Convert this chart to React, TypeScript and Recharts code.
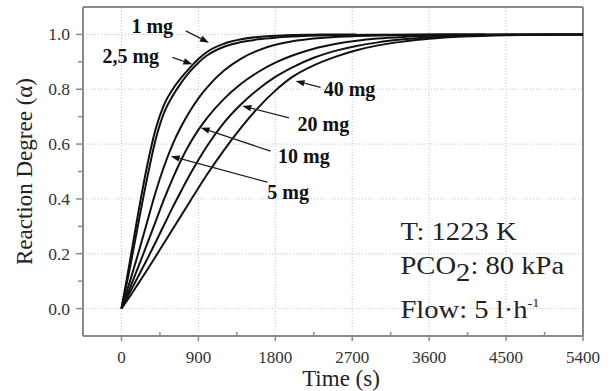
import React from 'react';
import { LineChart, Line, XAxis, YAxis, ReferenceLine, ReferenceDot, Label } from 'recharts';

const FONT = "'Liberation Serif', 'Times New Roman', Times, serif";

// ---- data (time in s, reaction degree alpha) ----
const time1mg = [0, 100, 200, 300, 400, 500, 600, 700, 800, 900, 1000, 1200, 1400, 1600, 1800, 2000, 2250, 2500, 2750];
const alpha1mg = [0, 0.175, 0.355, 0.52, 0.655, 0.745, 0.8, 0.842, 0.878, 0.91, 0.936, 0.966, 0.982, 0.991, 0.995, 0.998, 0.999, 1.0, 1.0];

const time25mg = [0, 100, 200, 300, 400, 500, 600, 700, 800, 900, 1000, 1200, 1400, 1600, 1800, 2000, 2500, 3000, 3600, 4250];
const alpha25mg = [0, 0.15, 0.315, 0.475, 0.617, 0.716, 0.776, 0.824, 0.864, 0.897, 0.923, 0.955, 0.972, 0.982, 0.988, 0.992, 0.997, 0.999, 1.0, 1.0];

const timeLong = [0, 100, 200, 300, 400, 500, 600, 700, 800, 900, 1000, 1200, 1400, 1600, 1800, 2000, 2250, 2500, 2750, 3000, 3300, 3600, 4000, 4500, 5000, 5400];
const alpha5mg = [0, 0.1, 0.205, 0.315, 0.425, 0.52, 0.6, 0.665, 0.72, 0.767, 0.806, 0.868, 0.912, 0.942, 0.962, 0.975, 0.985, 0.991, 0.994, 0.996, 0.998, 0.999, 1.0, 1.0, 1.0, 1.0];
const alpha10mg = [0, 0.075, 0.155, 0.235, 0.318, 0.4, 0.475, 0.543, 0.602, 0.652, 0.695, 0.765, 0.82, 0.863, 0.897, 0.923, 0.948, 0.965, 0.977, 0.985, 0.991, 0.995, 0.998, 1.0, 1.0, 1.0];
const alpha20mg = [0, 0.06, 0.12, 0.18, 0.242, 0.306, 0.37, 0.43, 0.488, 0.542, 0.592, 0.678, 0.745, 0.8, 0.845, 0.88, 0.915, 0.94, 0.958, 0.971, 0.982, 0.99, 0.995, 0.998, 1.0, 1.0];
const alpha40mg = [0, 0.045, 0.093, 0.141, 0.19, 0.24, 0.29, 0.34, 0.39, 0.44, 0.488, 0.578, 0.66, 0.733, 0.795, 0.845, 0.887, 0.918, 0.942, 0.96, 0.974, 0.984, 0.992, 0.997, 0.999, 1.0];

const massLabels = ['1 mg', '2,5 mg', '5 mg', '10 mg', '20 mg', '40 mg'];

const xMajorTicks = [0, 900, 1800, 2700, 3600, 4500, 5400];
const xMinorTicks = [-450, 450, 1350, 2250, 3150, 4050, 4950];
const yMajorTicks = [0, 0.2, 0.4, 0.6, 0.8, 1.0];
const yMinorTicks = [0.1, 0.3, 0.5, 0.7, 0.9];

const xGrid = [0, 900, 1800, 2700, 3600, 4500];
const yGrid = [0, 0.2, 0.4, 0.6, 0.8, 1.0];

const toPoints = (ts: number[], as: number[]) => ts.map((t, i) => ({ t, a: as[i] }));

const series = [
  { name: massLabels[0], data: toPoints(time1mg, alpha1mg) },
  { name: massLabels[1], data: toPoints(time25mg, alpha25mg) },
  { name: massLabels[2], data: toPoints(timeLong, alpha5mg) },
  { name: massLabels[3], data: toPoints(timeLong, alpha10mg) },
  { name: massLabels[4], data: toPoints(timeLong, alpha20mg) },
  { name: massLabels[5], data: toPoints(timeLong, alpha40mg) },
];

// annotation anchors in data units: label centre, arrow start, arrow tip
const annotations = [
  { text: massLabels[0], lt: 360, la: 1.03, ft: 752, fa: 1.013, tt: 1024, ta: 0.97 },
  { text: massLabels[1], lt: 109, la: 0.92, ft: 596, fa: 0.916, tt: 830, ta: 0.891 },
  { text: massLabels[2], lt: 1950, la: 0.423, ft: 1706, fa: 0.461, tt: 576, ta: 0.556 },
  { text: massLabels[3], lt: 2134, la: 0.556, ft: 1745, fa: 0.574, tt: 927, ta: 0.66 },
  { text: massLabels[4], lt: 2363, la: 0.672, ft: 1959, fa: 0.696, tt: 1414, ta: 0.739 },
  { text: massLabels[5], lt: 2668, la: 0.801, ft: 2329, fa: 0.807, tt: 2037, ta: 0.83 },
];

const AXIS = '#8a8a8a';
const TICK_TEXT = '#333';

const XTick = (props: any) => {
  const { x, y, payload } = props;
  const v = payload.value;
  const major = xMajorTicks.includes(v);
  return (
    <g>
      <line x1={x} x2={x} y1={y} y2={major ? y + 5 : y - 4} stroke={AXIS} strokeWidth={1.5} />
      {major && (
        <text x={x} y={y + 26.5} textAnchor="middle" fontSize={17} fontFamily={FONT} fill={TICK_TEXT}>
          {v}
        </text>
      )}
    </g>
  );
};

const YTick = (props: any) => {
  const { x, y, payload } = props;
  const v = payload.value;
  const major = yMajorTicks.some((m) => Math.abs(m - v) < 1e-9);
  return (
    <g>
      <line x1={x} x2={x - (major ? 7 : 5)} y1={y} y2={y} stroke={AXIS} strokeWidth={1.5} />
      {major && (
        <text x={x - 13} y={y} dy="0.34em" textAnchor="end" fontSize={17.5} fontFamily={FONT} fill={TICK_TEXT}>
          {v.toFixed(1)}
        </text>
      )}
    </g>
  );
};

const ArrowShape = (p: any) => {
  const { x1, y1, x2, y2 } = p;
  const dx = x2 - x1;
  const dy = y2 - y1;
  const len = Math.hypot(dx, dy) || 1;
  const ux = dx / len;
  const uy = dy / len;
  const L = 9;
  const W = 3.2;
  const bx = x2 - ux * L;
  const by = y2 - uy * L;
  return (
    <g>
      <line x1={x1} y1={y1} x2={bx} y2={by} stroke="#222" strokeWidth={1.3} />
      <polygon points={`${x2},${y2} ${bx - uy * W},${by + ux * W} ${bx + uy * W},${by - ux * W}`} fill="#111" />
    </g>
  );
};

const YTitle = (props: any) => {
  const { viewBox } = props;
  const cx = viewBox.x + 24;
  const cy = viewBox.y + viewBox.height / 2;
  return (
    <text
      transform={`translate(${cx},${cy}) rotate(-90)`}
      textAnchor="middle"
      dy="0.34em"
      fontSize={23}
      fontFamily={FONT}
      fill="#222"
    >
      Reaction Degree (α)
    </text>
  );
};

const boxText = (children: React.ReactNode) => (p: any) => (
  <text transform={`translate(${p.cx},${p.cy}) scale(1.1,1)`} x={0} y={0} fontSize={26} fontFamily={FONT} fill="#222">
    {children}
  </text>
);

export default function App() {
  const allXTicks = [...xMinorTicks, ...xMajorTicks].sort((a, b) => a - b);
  const allYTicks = [...yMinorTicks, ...yMajorTicks].sort((a, b) => a - b);
  return (
    <div style={{ position: 'absolute', left: 0, top: 0, background: '#fff' }}>
      <LineChart width={613} height={391} margin={{ top: 7, right: 30, bottom: 0, left: 0 }}>
        <XAxis
          type="number"
          dataKey="t"
          domain={[-450, 5400]}
          ticks={allXTicks}
          interval={0}
          allowDataOverflow
          height={55}
          tickSize={0}
          tickMargin={0}
          tick={<XTick />}
          tickLine={false}
          axisLine={{ stroke: AXIS, strokeWidth: 2 }}
        >
          <Label
            value="Time (s)"
            position="insideBottom"
            offset={5}
            dx={8}
            style={{ fontSize: 23, fontFamily: FONT, fill: '#222' }}
          />
        </XAxis>
        <YAxis
          type="number"
          domain={[-0.1, 1.1]}
          ticks={allYTicks}
          interval={0}
          allowDataOverflow
          width={83}
          tickSize={0}
          tickMargin={0}
          tick={<YTick />}
          tickLine={false}
          axisLine={{ stroke: AXIS, strokeWidth: 2 }}
        >
          <Label content={<YTitle />} />
        </YAxis>

        {xGrid.map((v) => (
          <ReferenceLine key={`gx${v}`} x={v} stroke="#c4c4c4" strokeDasharray="1 2" strokeWidth={1} />
        ))}
        {yGrid.map((v) => (
          <ReferenceLine key={`gy${v}`} y={v} stroke="#c4c4c4" strokeDasharray="1 2" strokeWidth={1} />
        ))}
        <ReferenceLine x={5400} stroke={AXIS} strokeWidth={2} />
        <ReferenceLine y={1.1} stroke={AXIS} strokeWidth={2} />

        {series.map((s) => (
          <Line
            key={s.name}
            data={s.data}
            dataKey="a"
            name={s.name}
            type="monotone"
            stroke="#111"
            strokeWidth={2}
            dot={false}
            activeDot={false}
            isAnimationActive={false}
          />
        ))}

        {annotations.map((an) => (
          <ReferenceLine
            key={`ar${an.text}`}
            segment={[{ x: an.ft, y: an.fa }, { x: an.tt, y: an.ta }]}
            shape={<ArrowShape />}
            ifOverflow="visible"
          />
        ))}
        {annotations.map((an) => (
          <ReferenceDot
            key={`lb${an.text}`}
            x={an.lt}
            y={an.la}
            ifOverflow="visible"
            shape={(p: any) => (
              <text x={p.cx} y={p.cy} dy="0.34em" textAnchor="middle" fontSize={20} fontWeight="bold" fontFamily={FONT} fill="#111">
                {an.text}
              </text>
            )}
          />
        ))}

        <ReferenceDot x={3264} y={0.251} ifOverflow="visible" shape={boxText('T: 1223 K')} />
        <ReferenceDot
          x={3264}
          y={0.127}
          ifOverflow="visible"
          shape={boxText(
            <>
              PCO<tspan dy={7}>2</tspan>
              <tspan dy={-7}>: 80 kPa</tspan>
            </>
          )}
        />
        <ReferenceDot
          x={3264}
          y={-0.035}
          ifOverflow="visible"
          shape={boxText(
            <>
              Flow: 5 l·h<tspan dy={-11} fontSize={13}>-1</tspan>
            </>
          )}
        />
      </LineChart>
    </div>
  );
}
